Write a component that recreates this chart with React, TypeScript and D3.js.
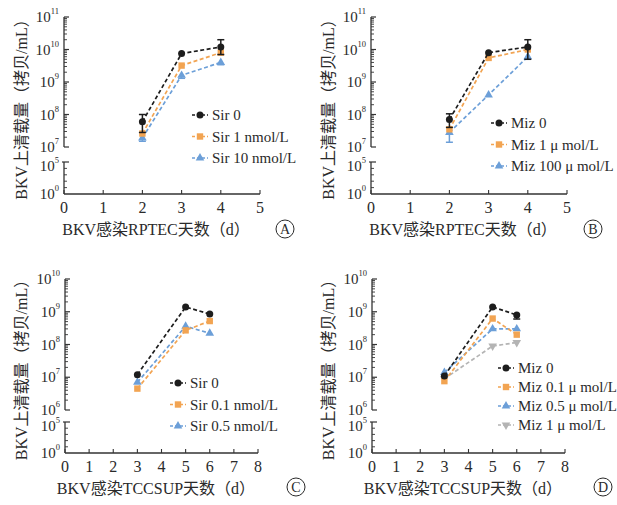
import * as d3 from "d3";
import React from "react";

const W = 617;
const H = 505;
const serif = "'Liberation Serif', 'Times New Roman', 'Noto Sans CJK SC', serif";

// days on the x axis
const daysRPTEC = [2, 3, 4];
const daysTCCSUP = [3, 5, 6];

// panel A: RPTEC + sirolimus (copies/mL)
const sirA0 = [6e7, 7.5e9, 1.2e10];
const sirA0Hi = [1e8, null, 2e10];
const sirA0Lo = [2.8e7, null, 7e9];
const sirA1 = [2.6e7, 3.2e9, 8e9];
const sirA10 = [1.9e7, 1.6e9, 4e9];
const sirA10Lo = [1.5e7, 1.3e9, 3.4e9];

// panel B: RPTEC + mizoribine
const mizB0 = [7e7, 8e9, 1.2e10];
const mizB0Hi = [1.05e8, null, 2e10];
const mizB0Lo = [4e7, null, 5e9];
const mizB1 = [3.5e7, 5.5e9, 1e10];
const mizB100 = [2.8e7, 4e8, 6e9];
const mizB100Lo = [1.4e7, null, null];

// panel C: TCCSUP + sirolimus
const sirC0 = [1.2e7, 1.4e9, 8.5e8];
const sirC01 = [4.5e6, 2.7e8, 5.2e8];
const sirC05 = [7e6, 3.6e8, 2.2e8];

// panel D: TCCSUP + mizoribine
const mizD0 = [1.1e7, 1.4e9, 8e8];
const mizD0Lo = [null, null, 6e8];
const mizD01 = [7.6e6, 6.2e8, 2e8];
const mizD05 = [1.4e7, 3e8, 3e8];
const mizD1 = [9e6, 9e7, 1.15e8];

const legendA = ["Sir 0", "Sir 1 nmol/L", "Sir 10 nmol/L"];
const legendB = ["Miz 0", "Miz 1 μ mol/L", "Miz 100 μ mol/L"];
const legendC = ["Sir 0", "Sir 0.1 nmol/L", "Sir 0.5 nmol/L"];
const legendD = ["Miz 0", "Miz 0.1 μ mol/L", "Miz 0.5 μ mol/L", "Miz 1 μ mol/L"];

const BLACK = "#1d1d1d";
const ORANGE = "#f2a452";
const BLUE = "#6c9fd8";
const GRAY = "#b4b4b4";

type Shape = "circle" | "square" | "tri" | "triDown";
type Series = {
  label: string;
  values: number[];
  hi?: (number | null)[];
  lo?: (number | null)[];
  color: string;
  shape: Shape;
};

type PanelCfg = {
  ox: number;
  x0: number;
  x1: number;
  xMax: number;
  yTop: number;
  yBreak: number;
  yLowTop: number;
  yAxis: number;
  upLo: number;
  upHi: number;
  xLabel: string;
  tag: string;
  tagX: number;
  tagY: number;
  legX: number;
  legY: number;
  legDy: number;
};

const Marker = ({ shape, x, y, color }: { shape: Shape; x: number; y: number; color: string }) => {
  if (shape === "circle") return <circle cx={x} cy={y} r={3.5} fill={color} />;
  if (shape === "square") return <rect x={x - 3.2} y={y - 3.2} width={6.4} height={6.4} fill={color} />;
  const p = d3.symbol().type(d3.symbolTriangle).size(32)();
  return (
    <path
      d={p || ""}
      fill={color}
      transform={`translate(${x},${y})${shape === "triDown" ? " rotate(180)" : ""}`}
    />
  );
};

// "10^n" tick label
const Sup = ({ x, y, exp, shift = 5 }: { x: number; y: number; exp: number; shift?: number }) => (
  <text x={x} y={y + shift} textAnchor="end" fontFamily={serif} fontSize={15} fill="#2a2a2a">
    10
    <tspan dy={-8} fontSize={8.5}>
      {exp}
    </tspan>
  </text>
);

const Panel = ({ cfg, days, series, legend }: { cfg: PanelCfg; days: number[]; series: Series[]; legend: string[] }) => {
  const p = cfg;
  const x = d3.scaleLinear().domain([0, p.xMax]).range([p.x0, p.x1]);
  const yUp = d3.scaleLog().domain([p.upLo, p.upHi]).range([p.yBreak, p.yTop]);
  const yLow = d3.scaleLog().domain([1, 1e5]).range([p.yAxis, p.yLowTop]);
  const eLo = Math.round(Math.log10(p.upLo));
  const eHi = Math.round(Math.log10(p.upHi));
  const majors = d3.range(eLo, eHi + 1);
  const minors: number[] = [];
  for (let e = eLo; e < eHi; e++) for (let k = 2; k <= 9; k++) minors.push(k * Math.pow(10, e));
  const line = d3
    .line<[number, number]>()
    .x((d) => x(d[0]))
    .y((d) => yUp(d[1]));
  const ax = "#333";
  const xl = p.x0;

  return (
    <g transform={`translate(${p.ox},0)`}>
      {/* y axis, upper segment */}
      <line x1={xl} x2={xl} y1={p.yTop} y2={p.yBreak} stroke={ax} strokeWidth={1.3} />
      {majors.map((e) => (
        <g key={"M" + e}>
          <line x1={xl} x2={xl + 5} y1={yUp(Math.pow(10, e))} y2={yUp(Math.pow(10, e))} stroke={ax} strokeWidth={1.2} />
          <Sup x={xl - 5} y={yUp(Math.pow(10, e))} exp={e} />
        </g>
      ))}
      {minors.map((v, i) => (
        <line key={"m" + i} x1={xl} x2={xl + 3} y1={yUp(v)} y2={yUp(v)} stroke={ax} strokeWidth={0.9} />
      ))}
      {/* y axis, lower segment */}
      <line x1={xl} x2={xl} y1={p.yLowTop} y2={p.yAxis} stroke={ax} strokeWidth={1.3} />
      <line x1={xl - 2} x2={xl + 5} y1={yLow(1e5)} y2={yLow(1e5)} stroke={ax} strokeWidth={1.2} />
      {[10, 100, 1000, 1e4].map((v) => (
        <line key={"l" + v} x1={xl} x2={xl + 3} y1={yLow(v)} y2={yLow(v)} stroke={ax} strokeWidth={0.9} />
      ))}
      <Sup x={xl - 5} y={yLow(1e5)} exp={5} shift={9} />
      <Sup x={xl - 5} y={yLow(1)} exp={0} shift={5} />
      {/* x axis */}
      <line x1={xl} x2={p.x1} y1={p.yAxis} y2={p.yAxis} stroke={ax} strokeWidth={1.3} />
      {d3.range(0, p.xMax + 1).map((t) => (
        <g key={"x" + t}>
          <line x1={x(t)} x2={x(t)} y1={p.yAxis} y2={p.yAxis - 4} stroke={ax} strokeWidth={1.1} />
          <text x={x(t)} y={p.yAxis + 19} textAnchor="middle" fontFamily={serif} fontSize={16} fill="#2a2a2a">
            {t}
          </text>
        </g>
      ))}
      <text x={156} y={p.yAxis + 41} textAnchor="middle" fontFamily={serif} fontSize={16} fill="#2a2a2a">
        {p.xLabel}
      </text>
      <circle cx={p.tagX} cy={p.tagY} r={9} fill="none" stroke="#2a2a2a" strokeWidth={1} />
      <text x={p.tagX} y={p.tagY + 5} textAnchor="middle" fontFamily={serif} fontSize={14} fill="#2a2a2a">
        {p.tag}
      </text>
      {/* y label */}
      <text
        transform={`translate(21,${(p.yTop + p.yAxis) / 2}) rotate(-90)`}
        textAnchor="middle"
        dominantBaseline="central"
        fontFamily={serif}
        fontSize={16}
        fill="#2a2a2a"
      >
        BKV上清载量（拷贝/mL）
      </text>
      {/* data */}
      {[...series].reverse().map((s, si) => {
        const pts: [number, number][] = days.map((d, i) => [d, s.values[i]]);
        return (
          <g key={"s" + si}>
            <path d={line(pts) || ""} fill="none" stroke={s.color} strokeWidth={1.7} strokeDasharray="4,2.5" />
            {days.map((d, i) => {
              const hi = s.hi ? s.hi[i] : null;
              const lo = s.lo ? s.lo[i] : null;
              const cx = x(d);
              return (
                <g key={i}>
                  {hi != null && (
                    <g stroke={s.color} strokeWidth={1.5}>
                      <line x1={cx} x2={cx} y1={yUp(s.values[i])} y2={yUp(hi)} />
                      <line x1={cx - 3.5} x2={cx + 3.5} y1={yUp(hi)} y2={yUp(hi)} />
                    </g>
                  )}
                  {lo != null && (
                    <g stroke={s.color} strokeWidth={1.5}>
                      <line x1={cx} x2={cx} y1={yUp(s.values[i])} y2={yUp(lo)} />
                      <line x1={cx - 3.5} x2={cx + 3.5} y1={yUp(lo)} y2={yUp(lo)} />
                    </g>
                  )}
                  <Marker shape={s.shape} x={cx} y={yUp(s.values[i])} color={s.color} />
                </g>
              );
            })}
          </g>
        );
      })}
      {/* legend */}
      {series.map((s, i) => {
        const ly = p.legY + i * p.legDy;
        return (
          <g key={"lg" + i}>
            <line x1={p.legX - 8} x2={p.legX + 8} y1={ly} y2={ly} stroke={s.color} strokeWidth={1.6} strokeDasharray="3,2" />
            <Marker shape={s.shape} x={p.legX} y={ly} color={s.color} />
            <text x={p.legX + 12} y={ly + 5} fontFamily={serif} fontSize={15} fill="#2a2a2a">
              {legend[i]}
            </text>
          </g>
        );
      })}
    </g>
  );
};

const cfgTop = { x0: 64, x1: 260, xMax: 5, yTop: 17, yBreak: 147, yLowTop: 162, yAxis: 194, upLo: 1e7, upHi: 1e11 };
const cfgBot = { x0: 65, x1: 258, xMax: 8, yTop: 279, yBreak: 410, yLowTop: 422, yAxis: 453, upLo: 1e6, upHi: 1e10 };

const App = () => {
  const A: Series[] = [
    { label: legendA[0], values: sirA0, hi: sirA0Hi, lo: sirA0Lo, color: BLACK, shape: "circle" },
    { label: legendA[1], values: sirA1, color: ORANGE, shape: "square" },
    { label: legendA[2], values: sirA10, lo: sirA10Lo, color: BLUE, shape: "tri" },
  ];
  const B: Series[] = [
    { label: legendB[0], values: mizB0, hi: mizB0Hi, lo: mizB0Lo, color: BLACK, shape: "circle" },
    { label: legendB[1], values: mizB1, color: ORANGE, shape: "square" },
    { label: legendB[2], values: mizB100, lo: mizB100Lo, color: BLUE, shape: "tri" },
  ];
  const C: Series[] = [
    { label: legendC[0], values: sirC0, color: BLACK, shape: "circle" },
    { label: legendC[1], values: sirC01, color: ORANGE, shape: "square" },
    { label: legendC[2], values: sirC05, color: BLUE, shape: "tri" },
  ];
  const D: Series[] = [
    { label: legendD[0], values: mizD0, lo: mizD0Lo, color: BLACK, shape: "circle" },
    { label: legendD[1], values: mizD01, color: ORANGE, shape: "square" },
    { label: legendD[2], values: mizD05, color: BLUE, shape: "tri" },
    { label: legendD[3], values: mizD1, color: GRAY, shape: "triDown" },
  ];
  return (
    <svg
      width={W}
      height={H}
      style={{ position: "absolute", left: 0, top: 0, background: "#fff" }}
    >
      <Panel
        cfg={{ ...cfgTop, ox: 0, xLabel: "BKV感染RPTEC天数（d）", tag: "A", tagX: 285, tagY: 229, legX: 200, legY: 115, legDy: 21.5 }}
        days={daysRPTEC}
        series={A}
        legend={legendA}
      />
      <Panel
        cfg={{ ...cfgTop, ox: 307, xLabel: "BKV感染RPTEC天数（d）", tag: "B", tagX: 286, tagY: 229, legX: 192, legY: 123, legDy: 21.5 }}
        days={daysRPTEC}
        series={B}
        legend={legendB}
      />
      <Panel
        cfg={{ ...cfgBot, ox: 0, xLabel: "BKV感染TCCSUP天数（d）", tag: "C", tagX: 296, tagY: 487, legX: 178, legY: 383, legDy: 21.5 }}
        days={daysTCCSUP}
        series={C}
        legend={legendC}
      />
      <Panel
        cfg={{ ...cfgBot, ox: 307, xLabel: "BKV感染TCCSUP天数（d）", tag: "D", tagX: 296, tagY: 487, legX: 199, legY: 368, legDy: 19 }}
        days={daysTCCSUP}
        series={D}
        legend={legendD}
      />
    </svg>
  );
};

export default App;
